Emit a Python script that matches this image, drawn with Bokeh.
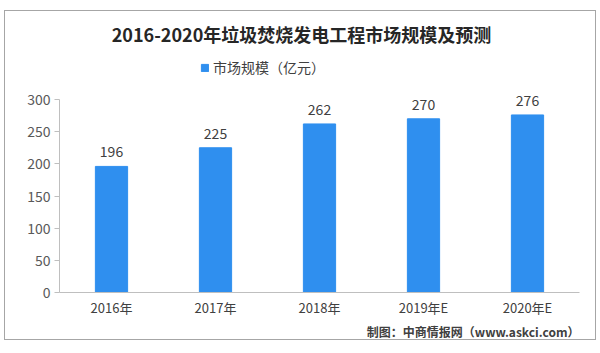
from bokeh.plotting import figure
from bokeh.models import (ColumnDataSource, Range1d, FixedTicker, LabelSet, Label, Title,
                          Legend, LegendItem)
from bokeh.core.properties import value
from bokeh.embed import file_html
from bokeh.resources import INLINE

title_text = "2016-2020年垃圾焚烧发电工程市场规模及预测"
series_name = "市场规模（亿元）"
years = ["2016年", "2017年", "2018年", "2019年E", "2020年E"]
values = [196, 225, 262, 270, 276]
y_ticks = [0, 50, 100, 150, 200, 250, 300]
footer_text = "制图：中商情报网（www.askci.com）"

FONT = "Noto Sans CJK SC"
BAR = "#2F8FEF"

src = ColumnDataSource(dict(x=years, y=values, lab=[str(v) for v in values]))

# frame spans the full height above the x axis; y axis drawn only from 0 to 300
p = figure(x_range=years, y_range=Range1d(0, 436.8), width=592, height=330,
           output_backend="svg", toolbar_location=None,
           min_border_left=54, min_border_right=18, min_border_top=0, min_border_bottom=49)
p.margin = (10, 0, 0, 4)
p.styles = {"border": "1px solid #a6a6a6", "box-sizing": "border-box"}
p.outline_line_color = None
p.xgrid.grid_line_color = None
p.ygrid.grid_line_color = None
p.x_range.range_padding = 0

r = p.vbar(x="x", top="y", width=0.31, source=src, color=BAR)

p.yaxis.ticker = FixedTicker(ticks=y_ticks)
p.yaxis.bounds = (0, 300)
p.yaxis.axis_line_color = "#bfbfbf"
p.yaxis.major_tick_line_color = "#bfbfbf"
p.yaxis.major_tick_out = 5
p.yaxis.major_tick_in = 0
p.yaxis.minor_tick_line_color = None
p.yaxis.major_label_text_font = FONT
p.yaxis.major_label_text_font_size = "14px"
p.yaxis.major_label_text_color = "#595959"
p.yaxis.major_label_standoff = 4

p.xaxis.axis_line_color = "#bfbfbf"
p.xaxis.major_tick_line_color = None
p.xaxis.major_tick_out = 0
p.xaxis.major_tick_in = 0
p.xaxis.minor_tick_line_color = None
p.xaxis.major_label_text_font = FONT
p.xaxis.major_label_text_font_size = "13px"
p.xaxis.major_label_text_color = "#404040"
p.xaxis.major_label_standoff = 5

labels = LabelSet(x="x", y="y", text="lab", source=src, y_offset=9,
                  text_align="center", text_baseline="bottom",
                  text_font=value(FONT), text_font_size=value("14px"), text_color=value("#404040"))
p.add_layout(labels)

p.add_layout(Label(x=242, y=259, x_units="screen", y_units="screen", text=title_text,
                   text_align="center", text_baseline="middle", text_font=FONT,
                   text_font_size="18px", text_font_style="bold", text_color="#262626"))

legend = Legend(items=[LegendItem(label=series_name, renderers=[r])],
                location=(141, 215), orientation="horizontal",
                glyph_width=9, glyph_height=9, label_standoff=4,
                padding=0, margin=0, spacing=0,
                label_text_font=FONT, label_text_font_size="14px", label_text_color="#404040",
                border_line_color=None, background_fill_alpha=0)
p.add_layout(legend)

p.add_layout(Title(text=footer_text, align="right", text_font=FONT, text_font_size="12px",
                   text_font_style="bold", text_color="#404040", standoff=3), "below")

open("out.html", "w").write(file_html(p, INLINE))
